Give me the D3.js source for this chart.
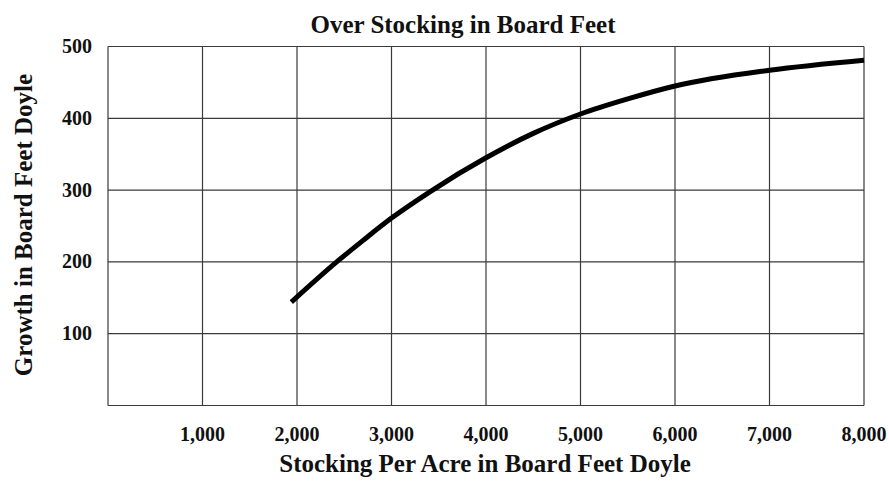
<!DOCTYPE html>
<html>
<head>
<meta charset="utf-8">
<script src="https://cdn.jsdelivr.net/npm/d3@7"></script>
<style>
  body { margin: 0; background: #fff; }
  text { font-family: "Liberation Serif", "Times New Roman", serif; font-weight: bold; fill: #111; }
</style>
</head>
<body>
<div id="chart"></div>
<script>
// x ticks and y ticks
var xTicks = [1000, 2000, 3000, 4000, 5000, 6000, 7000, 8000];
var yTicks = [100, 200, 300, 400, 500];
// growth curve [stocking, growth]
var stocking = [1940, 2420, 2700, 3000, 3410, 4000, 4500, 5000, 5500, 6000, 7000, 8000];
var growth = [144, 200, 230, 261, 298, 345, 379, 406, 427, 445, 467, 481];

var width = 889, height = 481;
var plotLeft = 108, plotRight = 864, plotTop = 46.5, plotBottom = 405.5;

var svg = d3.select("#chart").append("svg")
    .attr("width", width)
    .attr("height", height);

var x = d3.scaleLinear().domain([0, 8000]).range([plotLeft, plotRight]);
var y = d3.scaleLinear().domain([0, 500]).range([plotBottom, plotTop]);

// grid
var grid = svg.append("g").attr("stroke", "#3a3a3a").attr("stroke-width", 1.2);
grid.selectAll("line.v")
    .data([0].concat(xTicks))
    .enter().append("line")
    .attr("class", "v")
    .attr("x1", function(d) { return x(d); })
    .attr("x2", function(d) { return x(d); })
    .attr("y1", y(0))
    .attr("y2", y(500));
grid.selectAll("line.h")
    .data([0].concat(yTicks))
    .enter().append("line")
    .attr("class", "h")
    .attr("x1", x(0))
    .attr("x2", x(8000))
    .attr("y1", function(d) { return y(d); })
    .attr("y2", function(d) { return y(d); });

// tick labels
var fmt = d3.format(",");
svg.selectAll("text.xt")
    .data(xTicks)
    .enter().append("text")
    .attr("class", "xt")
    .attr("x", function(d) { return x(d); })
    .attr("y", 441)
    .attr("text-anchor", "middle")
    .style("font-size", "20px")
    .text(function(d) { return fmt(d); });
svg.selectAll("text.yt")
    .data(yTicks)
    .enter().append("text")
    .attr("class", "yt")
    .attr("x", 92)
    .attr("y", function(d) { return y(d) + 6.5; })
    .attr("text-anchor", "end")
    .style("font-size", "20px")
    .text(function(d) { return d; });

// curve
var pts = stocking.map(function(s, i) { return [s, growth[i]]; });
var line = d3.line()
    .x(function(d) { return x(d[0]); })
    .y(function(d) { return y(d[1]); })
    .curve(d3.curveMonotoneX);
svg.append("path")
    .datum(pts)
    .attr("d", line)
    .attr("fill", "none")
    .attr("stroke", "#000")
    .attr("stroke-width", 5);

// titles
svg.append("text")
    .attr("x", 463)
    .attr("y", 33)
    .attr("text-anchor", "middle")
    .style("font-size", "25px")
    .text("Over Stocking in Board Feet");
svg.append("text")
    .attr("x", 485)
    .attr("y", 472)
    .attr("text-anchor", "middle")
    .style("font-size", "25px")
    .text("Stocking Per Acre in Board Feet Doyle");
svg.append("text")
    .attr("transform", "translate(32,225) rotate(-90)")
    .attr("text-anchor", "middle")
    .style("font-size", "25px")
    .text("Growth in Board Feet Doyle");
</script>
</body>
</html>
